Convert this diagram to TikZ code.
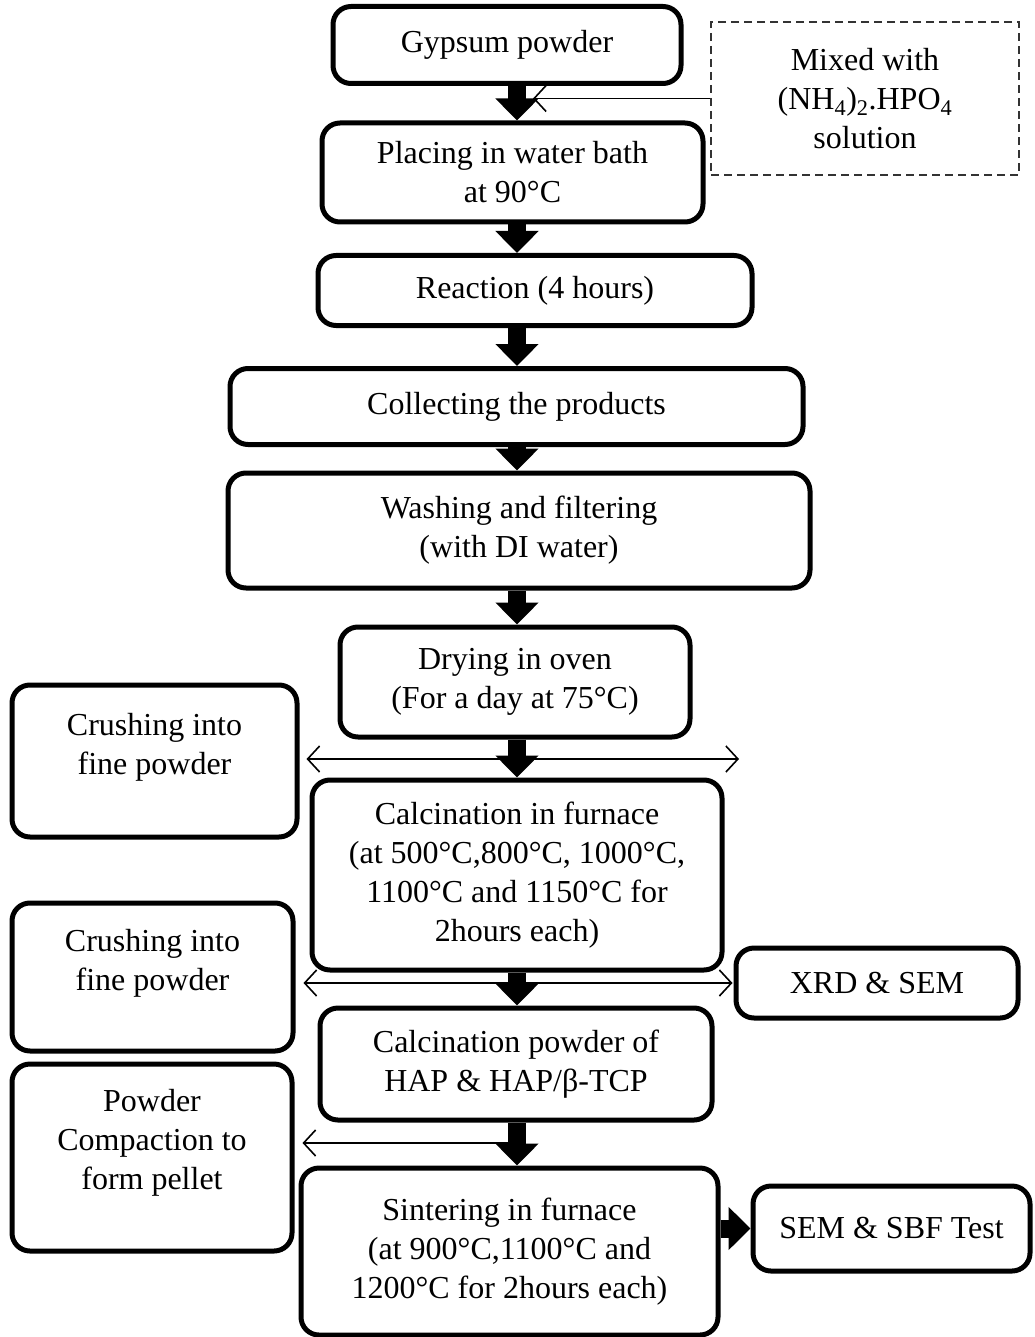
\documentclass[tikz,border=0pt]{standalone}
\usepackage{fontspec}
\setmainfont{Liberation Serif}
\usetikzlibrary{arrows.meta}
\begin{document}
\begin{tikzpicture}[x=1pt,y=-1pt,
  box/.style={draw, line width=5pt, rounded corners=18pt, inner sep=0pt, align=center,
    font=\fontsize{32}{39}\selectfont},
  dbox/.style={draw=black!80, line width=1.3pt, dash pattern=on 8pt off 5pt, inner sep=0pt,
    align=center, font=\fontsize{32}{39}\selectfont},
  txt/.style={align=center, inner sep=0pt, font=\fontsize{32}{39}\selectfont},
  big/.style={line width=18pt, -{Triangle[length=22pt,width=42pt]}},
  thinarr/.style={line width=1.6pt, -{Straight Barb[length=12pt,width=26pt,line width=1.6pt]}},
  dblarr/.style={line width=1.6pt, {Straight Barb[length=12pt,width=26pt,line width=1.6pt]}-{Straight Barb[length=12pt,width=26pt,line width=1.6pt]}},
]
\useasboundingbox (0,0) rectangle (1034,1337);

\node[box, minimum width=348pt, minimum height=77pt] (gyp) at (507,45) {Gypsum powder};
\node[dbox, minimum width=308pt, minimum height=153pt] (mix) at (865,98.5)
  {Mixed with\\(NH\textsubscript{4})\textsubscript{2}.HPO\textsubscript{4}\\solution};
\node[box, minimum width=381pt, minimum height=99pt] (plc) at (512.5,172.5)
  {Placing in water bath\\at 90°C};
\node[box, minimum width=434pt, minimum height=70pt] (rea) at (535,290.5) {Reaction (4 hours)};
\node[box, minimum width=573pt, minimum height=76pt] (col) at (516.5,406.5) {Collecting the products};
\node[box, minimum width=582pt, minimum height=115pt] (wsh) at (519,530.5)
  {Washing and filtering\\(with DI water)};
\node[box, minimum width=350pt, minimum height=110pt] (dry) at (515,682)
  {Drying in oven\\(For a day at 75°C)};
\node[box, minimum width=285pt, minimum height=152pt] (cr1) at (154.5,761) {};
\node[txt] (cr1t) at (154.5,747) {Crushing into\\fine powder};
\node[box, minimum width=410pt, minimum height=190pt] (cal) at (517,875)
  {Calcination in furnace\\(at 500°C,800°C, 1000°C,\\1100°C and 1150°C for\\2hours each)};
\node[box, minimum width=281pt, minimum height=148pt] (cr2) at (152.5,977) {};
\node[txt] (cr2t) at (152.5,963) {Crushing into\\fine powder};
\node[box, minimum width=282pt, minimum height=70pt] (xrd) at (877,983) {XRD \& SEM};
\node[box, minimum width=392pt, minimum height=112pt] (cpw) at (516,1064)
  {Calcination powder of\\HAP \& HAP/β-TCP};
\node[box, minimum width=280pt, minimum height=187pt] (cmp) at (152,1157.5) {};
\node[txt] (cmpt) at (152,1143) {Powder\\Compaction to\\form pellet};
\node[box, minimum width=417pt, minimum height=167pt] (sin) at (509.5,1251.5)
  {Sintering in furnace\\(at 900°C,1100°C and\\1200°C for 2hours each)};
\node[box, minimum width=277pt, minimum height=85pt] (sbf) at (891.5,1228.5) {SEM \& SBF Test};

\coordinate (ax) at (517,0);
\coordinate (mixend) at (533,98.5);
\coordinate (d1r) at (739,759);
\coordinate (d3) at (515,1143);

% thin connectors
\draw[thinarr] (mix.west) -- (mixend);
\draw[dblarr, shorten <=7pt] (cr1.east |- d1r) -- (d1r);
\draw[dblarr, shorten <=8pt, shorten >=1pt] (cr2.east |- xrd.west) -- (xrd.west);
\draw[thinarr, shorten >=8pt] (d3) -- (cmp.east |- d3);

% main flow arrows
\draw[big] (gyp.south -| ax) -- (plc.north -| ax);
\draw[big] (plc.south -| ax) -- (rea.north -| ax);
\draw[big] (rea.south -| ax) -- (col.north -| ax);
\draw[big] (col.south -| ax) -- (wsh.north -| ax);
\draw[big] (wsh.south -| ax) -- (dry.north -| ax);
\draw[big] (dry.south -| ax) -- (cal.north -| ax);
\draw[big] (cal.south -| ax) -- (cpw.north -| ax);
\draw[big] (cpw.south -| ax) -- (sin.north -| ax);
\draw[big] (sin.east |- sbf.west) -- (sbf.west);
\end{tikzpicture}
\end{document}
